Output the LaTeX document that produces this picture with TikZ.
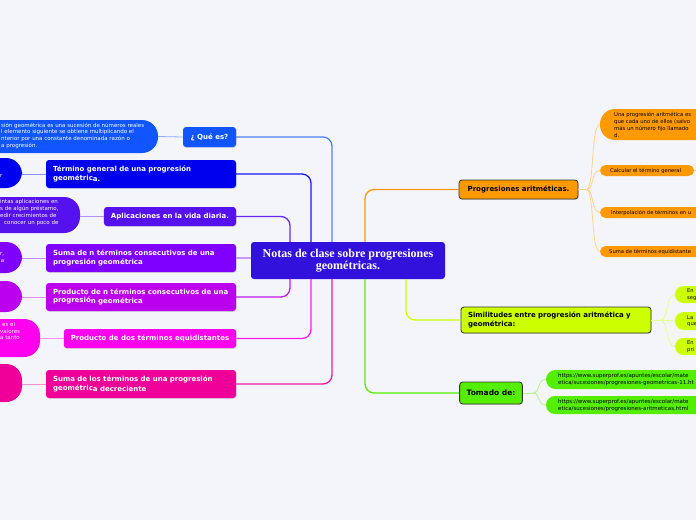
\documentclass[tikz,border=0pt]{standalone}
\usepackage{fontspec}
\setmainfont{DejaVu Sans}
\newfontfamily\serifb{Liberation Serif}
\usetikzlibrary{calc,shadows}
\definecolor{bg}{HTML}{F3F5FB}
\definecolor{cQ}{HTML}{1155FF}
\definecolor{cTG}{HTML}{0000EE}
\definecolor{cAP}{HTML}{5511EE}
\definecolor{cSN}{HTML}{8000FF}
\definecolor{cPN}{HTML}{BB00EE}
\definecolor{cPD}{HTML}{FF00EE}
\definecolor{cSD}{HTML}{EE0099}
\definecolor{cCN}{HTML}{3311DD}
\definecolor{cOR}{HTML}{FF9900}
\definecolor{cYG}{HTML}{CCFF00}
\definecolor{cGR}{HTML}{55EE00}
\definecolor{dk}{HTML}{333333}
\tikzset{
  lbox/.style={rounded corners=3pt, text=white, font=\fontsize{7}{8.7}\selectfont\bfseries,
    align=left, inner xsep=7pt, inner ysep=0pt,
    drop shadow={shadow xshift=0.6pt,shadow yshift=-0.9pt,opacity=0.25}},
  rbox/.style={rounded corners=3pt, draw=dk, line width=0.8pt, text=black,
    font=\fontsize{7}{8.7}\selectfont\bfseries, align=left, inner xsep=7pt, inner ysep=0pt,
    drop shadow={shadow xshift=0.6pt,shadow yshift=-0.9pt,opacity=0.25}},
  bub/.style={rounded corners=16pt, inner sep=0pt},
  pill/.style={rounded corners=5.5pt, inner sep=0pt},
  btxt/.style={font=\fontsize{5.5}{6.8}\selectfont, text=white, align=left, inner sep=0pt, anchor=north west},
  rtxt/.style={font=\fontsize{5.2}{6.7}\selectfont, text=black, align=left, inner sep=0pt, anchor=west},
  conn/.style={line width=1.3pt, rounded corners=9pt},
  thin/.style={line width=0.8pt},
}
\begin{document}
\begin{tikzpicture}[x=1pt,y=-1pt]
\useasboundingbox (0,0) rectangle (696,520);
\fill[bg] (0,0) rectangle (696,520);
\clip (0,0) rectangle (696,520);

% central node
\node[rounded corners=3pt, fill=cCN, text=white, minimum width=194pt, minimum height=37pt, inner sep=0pt,
  align=center, font=\serifb\fontsize{12}{12}\selectfont\bfseries] (cnt) at (348,260.5)
  {Notas de clase sobre progresiones\\geométricas.};

% ---------- left side ----------
\node[lbox, fill=cQ, minimum width=53pt, minimum height=20pt, align=center] (q) at (209.5,137) {¿ Qué es?};
\node[lbox, fill=cTG, minimum width=190pt, minimum height=28pt, text width=176pt] (tg) at (141,174)
  {Término general de una progresión\\geométric\raisebox{-1pt}{a.}};
\node[lbox, fill=cAP, minimum width=132pt, minimum height=19pt, align=center] (ap) at (170,216.5) {Aplicaciones en la vida diaria.};
\node[lbox, fill=cSN, minimum width=190pt, minimum height=28pt, text width=176pt] (sn) at (141,258)
  {Suma de n términos consecutivos de una\\progresión geométrica};
\node[lbox, fill=cPN, minimum width=190pt, minimum height=28pt, text width=176pt] (pn) at (141,297)
  {Producto de n términos consecutivos de una\\progresió\raisebox{-1pt}{n geométrica}};
\node[lbox, fill=cPD, minimum width=172pt, minimum height=19pt, align=center] (pd) at (150,338.5) {Producto de dos términos equidistantes};
\node[lbox, fill=cSD, minimum width=190pt, minimum height=28pt, text width=176pt] (sd) at (141,384)
  {Suma de los términos de una progresión\\geométric\raisebox{-1pt}{a decreciente}};

% left bubbles
\node[bub, fill=cQ, minimum width=198pt, minimum height=33pt] (b1) at (59,136.5) {};
\node[btxt] (b1t) at (1,122.5) {sión geométrica es una sucesión de números reales\\l elemento siguiente se obtiene multiplicando el\\nterior por una constante denominada razón o\\a progresión.};
\node[bub, fill=cTG, minimum width=62pt, minimum height=30pt] (b2) at (-9,173) {};
\node[btxt] (b2t) at (0,174.5) {r};
\node[bub, fill=cAP, minimum width=120pt, minimum height=36pt] (b3) at (20,215) {};
\node[btxt] (b3t) at (0,199.5) {intas aplicaciones en\\s de algún préstamo,\\edir crecimientos de\\\hspace*{4pt}conocer un poco de};
\node[bub, fill=cSN, minimum width=62pt, minimum height=31pt] (b4) at (-9,257.5) {};
\node[btxt, align=right] (b4t) at (0,252) {r,\\a};
\node[bub, fill=cPN, minimum width=62pt, minimum height=31pt] (b5) at (-9,296.5) {};
\node[bub, fill=cPD, minimum width=80pt, minimum height=38pt] (b6) at (0,338) {};
\node[btxt] (b6t) at (0,322) {\hspace*{2pt}es el\\valores\\a tanto};
\node[bub, fill=cSD, minimum width=62pt, minimum height=38pt] (b7) at (-9,383) {};

% bubble-box connectors
\draw[thin, cQ!50] (b1.east) -- (q.west);
\draw[thin, cTG!45] (b2.east |- tg.west) -- (tg.west);
\draw[thin, cAP!45] (b3.east |- ap.west) -- (ap.west);
\draw[thin, cSN!45] (b4.east |- sn.west) -- (sn.west);
\draw[thin, cPN!45] (b5.east |- pn.west) -- (pn.west);
\draw[thin, cPD!45] (b6.east |- pd.west) -- (pd.west);
\draw[thin, cSD!45] (b7.east |- sd.west) -- (sd.west);

% main left connectors
\draw[conn, cQ!75] (q.east) -| ($(cnt.north)+(-16,0)$);
\draw[conn, cTG!90] (tg.east) -| ($(cnt.north)+(-37,0)$);
\draw[conn, cAP!90] (ap.east) -| ($(cnt.north)+(-58,0)$);
\draw[conn, cSN!40] (sn.east) -- (sn.east -| cnt.west);
\draw[conn, cPN!90] (pn.east) -| ($(cnt.south)+(-58,0)$);
\draw[conn, cPD!90] (pd.east) -| ($(cnt.south)+(-37,0)$);
\draw[conn, cSD!90] (sd.east) -| ($(cnt.south)+(-16,0)$);

% ---------- right side ----------
\node[rbox, fill=cOR, minimum width=119pt, minimum height=19pt, align=center] (pa) at (518.5,189.5) {Progresiones aritméticas.};
\node[rbox, fill=cYG, minimum width=190pt, minimum height=26pt, text width=176pt] (sim) at (556,320)
  {Similitudes entre progresión aritmética y\\geométrica:};
\node[rbox, fill=cGR, minimum width=62pt, minimum height=22pt, align=center, font=\fontsize{7.5}{9}\selectfont\bfseries] (tom) at (491,393) {Tomado de:};

\draw[conn, cOR] ($(cnt.north)+(17,0)$) |- (pa.west);
\draw[conn, cYG] ($(cnt.south)+(58,0)$) |- (sim.west);
\draw[conn, cGR] ($(cnt.south)+(17,0)$) |- (tom.west);

% orange children
\node[bub, rounded corners=15pt, fill=cOR, minimum width=140pt, minimum height=31pt] (o1) at (670,124.5) {};
\node[btxt, text=black, font=\fontsize{5.3}{6.7}\selectfont] (o1t) at (614,112.5) {Una progresión aritmética es\\que cada uno de ellos (salvo\\más un número fijo llamado\\d.};
\node[pill, fill=cOR, minimum width=94pt, minimum height=11pt] (o2) at (647,170.5) {};
\node[rtxt] (o2t) at (610,170.5) {Calcular el término general};
\node[pill, fill=cOR, minimum width=140pt, minimum height=11pt] (o3) at (670,212.5) {};
\node[rtxt] (o3t) at (611,212.5) {Interpolación de términos en u};
\node[pill, fill=cOR, minimum width=140pt, minimum height=11pt] (o4) at (670,251.5) {};
\node[rtxt] (o4t) at (609,251.5) {Suma de términos equidistante};
\coordinate (o2x) at (700,170.5);
\draw[thin, cOR!50] (o2.east) -- (o2x);
\coordinate (paf) at ($(pa.east)+(8,0)$);
\draw[thin, cOR!45] (pa.east) -- (paf);
\foreach \c in {o1,o2,o3,o4}
  \draw[thin, cOR!45] (paf) .. controls +(8,0) and +(-9,0) .. (\c.west);

% yellow-green children
\node[bub, rounded corners=8.5pt, fill=cYG, minimum width=60pt, minimum height=17pt] (y1) at (705,294.5) {};
\node[rtxt] (y1t) at (687,294.5) {En\\seg};
\node[bub, rounded corners=9pt, fill=cYG, minimum width=60pt, minimum height=18pt] (y2) at (705,321) {};
\node[rtxt] (y2t) at (687,321) {La\\que};
\node[bub, rounded corners=8.5pt, fill=cYG, minimum width=60pt, minimum height=17pt] (y3) at (705,346.5) {};
\node[rtxt] (y3t) at (687,346.5) {En\\pri};
\coordinate (simf) at ($(sim.east)+(9,0)$);
\draw[thin, cYG!50] (sim.east) -- (simf);
\foreach \c in {y1,y2,y3}
  \draw[thin, cYG!50] (simf) .. controls +(8,0) and +(-9,0) .. (\c.west);

% green children
\node[bub, rounded corners=9.5pt, fill=cGR, minimum width=180pt, minimum height=19pt] (g1) at (636,379.5) {};
\node[rtxt, font=\fontsize{5.5}{7.3}\selectfont] (g1t) at (558,379.5) {https://www.superprof.es/apuntes/escolar/mate\\etica/sucesiones/progresiones-geometricas-11.ht};
\node[bub, rounded corners=9pt, fill=cGR, minimum width=180pt, minimum height=18pt] (g2) at (636,405) {};
\node[rtxt, font=\fontsize{5.5}{7.3}\selectfont] (g2t) at (558,405.5) {https://www.superprof.es/apuntes/escolar/mate\\etica/sucesiones/progresiones-aritmeticas.html};
\coordinate (tomf) at ($(tom.east)+(10,0)$);
\draw[thin, cGR!45] (tom.east) -- (tomf);
\foreach \c in {g1,g2}
  \draw[thin, cGR!45] (tomf) .. controls +(8,0) and +(-9,0) .. (\c.west);
\end{tikzpicture}
\end{document}
